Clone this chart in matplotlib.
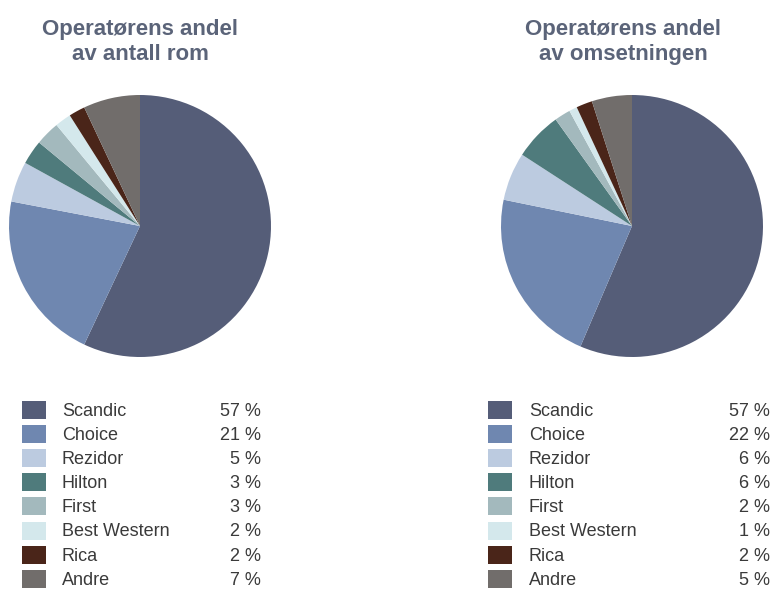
import matplotlib
matplotlib.use("Agg")
import matplotlib.pyplot as plt
from matplotlib.patches import Rectangle

categories = ["Scandic", "Choice", "Rezidor", "Hilton", "First", "Best Western", "Rica", "Andre"]
rooms_share = [57, 21, 5, 3, 3, 2, 2, 7]
revenue_share = [57, 22, 6, 6, 2, 1, 2, 5]
colors = ["#555d78", "#6f87b0", "#bccbe0", "#4f7b7c", "#a3b9bd", "#d4e8ec", "#4a2519", "#716d6b"]
titles = ["Operatørens andel\nav antall rom", "Operatørens andel\nav omsetningen"]

W, H = 772, 589
fig = plt.figure(figsize=(W / 100, H / 100), dpi=100)
fig.patch.set_facecolor("white")

title_color = "#5b6479"
text_color = "#3a3a3a"
fam = ["Liberation Sans", "DejaVu Sans"]

def fx(x):
    return x / W

def fy(y):
    return 1 - y / H

panels = [
    dict(data=rooms_share, cx=140, cy=226, r=131, tx=140, sq=22, lab=62, pct=261),
    dict(data=revenue_share, cx=632, cy=226, r=131, tx=623, sq=488, lab=529, pct=770),
]

for p, title in zip(panels, titles):
    ax = fig.add_axes([fx(p["cx"] - p["r"]), fy(p["cy"] + p["r"]),
                       fx(2 * p["r"]), 2 * p["r"] / H])
    ax.pie(p["data"], colors=colors, startangle=90, counterclock=False,
           wedgeprops=dict(linewidth=0))
    ax.set_xlim(-1, 1)
    ax.set_ylim(-1, 1)
    ax.set_aspect("equal")
    ax.axis("off")
    fig.text(fx(p["tx"]), fy(42), title, ha="center", va="center",
             fontsize=16, fontweight="bold", color=title_color, family=fam,
             linespacing=1.3)
    for i, (cat, val, col) in enumerate(zip(categories, p["data"], colors)):
        yc = 410 + i * 24.1
        fig.patches.append(Rectangle((fx(p["sq"]), fy(yc + 9)), fx(24), 18 / H,
                                     transform=fig.transFigure, facecolor=col,
                                     edgecolor="none"))
        fig.text(fx(p["lab"]), fy(yc + 1.5), cat, ha="left", va="center",
                 fontsize=13, color=text_color, family=fam)
        fig.text(fx(p["pct"]), fy(yc + 1.5), f"{val} %", ha="right", va="center",
                 fontsize=13, color=text_color, family=fam)

fig.savefig("out.png", dpi=100, facecolor="white")
